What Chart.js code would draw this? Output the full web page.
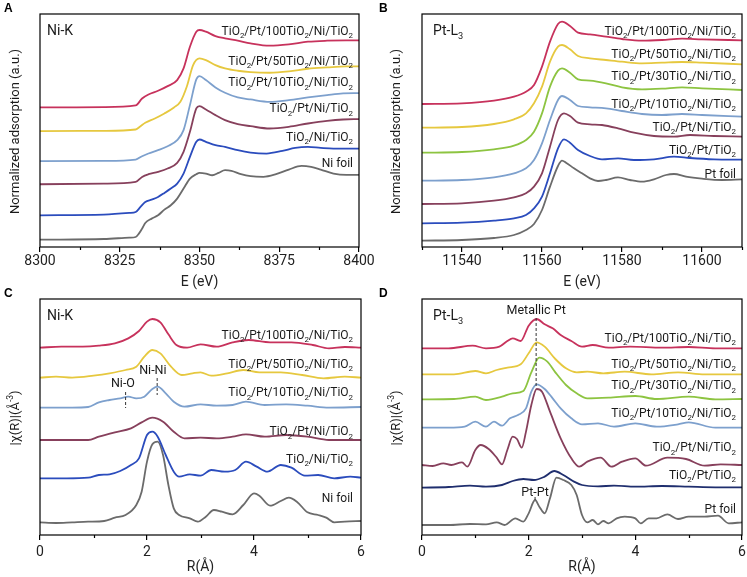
<!DOCTYPE html>
<html>
<head>
<meta charset="utf-8">
<script src="https://cdn.jsdelivr.net/npm/chart.js@4.4.1/dist/chart.umd.min.js"></script>
<style>
  body { margin: 0; background: #fff; width: 747px; height: 577px; position: relative; overflow: hidden; }
  canvas { position: absolute; }
</style>
</head>
<body>
<canvas id="chartA" width="386" height="292" style="left:0;top:0"></canvas>
<canvas id="chartB" width="374" height="292" style="left:373px;top:0"></canvas>
<canvas id="chartC" width="373" height="292" style="left:0;top:285px"></canvas>
<canvas id="chartD" width="374" height="292" style="left:373px;top:285px"></canvas>
<script>
// ---- data (stacked curves, arbitrary units) ----

// A: Ni-K XANES, [E (eV), normalized absorption + offset]
var aPt100 = [[8300,4.18],[8320,4.19],[8330,4.24],[8332,4.45],[8334,4.57],[8337,4.68],[8340,4.82],[8343,5.00],[8345,5.35],[8347,6.00],[8349,6.45],[8350,6.50],[8352,6.45],[8355,6.32],[8358,6.25],[8362,6.18],[8366,6.10],[8372,6.03],[8378,6.07],[8384,6.15],[8390,6.18],[8396,6.19],[8400,6.19]];
var aPt50 = [[8300,3.47],[8320,3.48],[8330,3.52],[8331.5,3.62],[8333,3.72],[8336,3.85],[8339,4.00],[8342,4.18],[8344,4.35],[8346,4.80],[8348,5.45],[8350,5.65],[8352,5.60],[8355,5.45],[8358,5.35],[8362,5.28],[8366,5.24],[8372,5.22],[8378,5.26],[8384,5.34],[8390,5.38],[8396,5.41],[8400,5.41]];
var aPt10 = [[8300,2.57],[8320,2.58],[8330,2.62],[8332,2.72],[8334,2.80],[8337,2.90],[8340,3.02],[8343,3.20],[8345,3.50],[8347,4.25],[8349,5.02],[8350,5.12],[8352,5.00],[8355,4.78],[8358,4.62],[8362,4.48],[8366,4.42],[8372,4.35],[8378,4.40],[8384,4.48],[8390,4.55],[8395,4.60],[8400,4.61]];
var aPtNi = [[8300,1.88],[8320,1.90],[8330,1.95],[8332,2.10],[8334,2.18],[8337,2.25],[8340,2.35],[8343,2.52],[8345,2.85],[8347,3.45],[8349,4.15],[8350,4.22],[8352,4.12],[8355,3.95],[8358,3.80],[8362,3.68],[8366,3.62],[8372,3.55],[8378,3.60],[8384,3.70],[8390,3.78],[8395,3.82],[8400,3.83]];
var aNiTi = [[8300,0.95],[8320,0.97],[8328,1.02],[8330,1.05],[8331.5,1.20],[8333,1.35],[8335,1.42],[8337,1.50],[8339,1.62],[8341,1.75],[8343,1.90],[8345,2.20],[8347,2.70],[8349,3.15],[8350,3.22],[8352,3.15],[8355,3.05],[8358,3.00],[8362,2.90],[8366,2.83],[8371,2.80],[8376,2.88],[8380,2.97],[8384,3.00],[8388,2.97],[8392,2.95],[8400,2.95]];
var aNiFoil = [[8300,0.22],[8320,0.24],[8328,0.28],[8330,0.30],[8331,0.40],[8332,0.55],[8333,0.72],[8335,0.85],[8337,0.95],[8339,1.12],[8341,1.25],[8343,1.45],[8345,1.75],[8347,2.05],[8349,2.18],[8350,2.22],[8352,2.20],[8354,2.15],[8356,2.22],[8358,2.30],[8360,2.28],[8363,2.18],[8366,2.12],[8370,2.10],[8374,2.18],[8378,2.32],[8382,2.43],[8385,2.40],[8388,2.32],[8392,2.20],[8396,2.16],[8400,2.16]];
var labelsA = ['TiO_2/Pt/100TiO_2/Ni/TiO_2', 'TiO_2/Pt/50TiO_2/Ni/TiO_2', 'TiO_2/Pt/10TiO_2/Ni/TiO_2', 'TiO_2/Pt/Ni/TiO_2', 'TiO_2/Ni/TiO_2', 'Ni foil'];

// B: Pt-L3 XANES
var bPt100 = [[11530,4.29],[11540,4.31],[11548,4.39],[11553,4.51],[11556,4.66],[11558,4.86],[11560,5.41],[11562,6.16],[11564,6.69],[11565,6.76],[11567,6.63],[11569,6.43],[11572,6.38],[11576,6.31],[11580,6.24],[11585,6.19],[11590,6.21],[11595,6.25],[11600,6.23],[11610,6.20]];
var bPt50 = [[11530,3.58],[11540,3.60],[11548,3.69],[11553,3.83],[11556,4.01],[11558,4.31],[11560,4.81],[11562,5.56],[11564,6.01],[11565,6.06],[11567,5.93],[11569,5.73],[11572,5.66],[11576,5.61],[11580,5.56],[11585,5.51],[11590,5.53],[11595,5.55],[11600,5.53],[11610,5.48]];
var bPt30 = [[11530,2.83],[11540,2.85],[11548,2.93],[11553,3.04],[11556,3.21],[11558,3.46],[11560,4.01],[11562,4.81],[11564,5.29],[11565,5.36],[11567,5.23],[11569,5.03],[11572,4.99],[11576,4.91],[11580,4.79],[11585,4.73],[11590,4.75],[11595,4.79],[11600,4.76],[11610,4.71]];
var bPt10 = [[11530,1.99],[11540,2.01],[11548,2.09],[11553,2.21],[11556,2.36],[11558,2.61],[11560,3.11],[11562,3.81],[11564,4.41],[11565,4.53],[11567,4.41],[11569,4.23],[11572,4.19],[11576,4.16],[11580,4.08],[11585,3.99],[11590,3.96],[11595,3.99],[11600,3.96],[11610,3.91]];
var bPtNi = [[11530,1.29],[11540,1.31],[11548,1.39],[11553,1.49],[11556,1.61],[11558,1.81],[11560,2.21],[11562,3.01],[11564,3.81],[11565.5,4.01],[11567,3.93],[11569,3.73],[11572,3.68],[11575,3.66],[11579,3.56],[11583,3.43],[11588,3.33],[11593,3.31],[11597,3.36],[11603,3.33],[11610,3.31]];
var bPtTi = [[11530,0.71],[11540,0.73],[11548,0.79],[11553,0.86],[11556,0.96],[11558,1.16],[11560,1.51],[11562,2.21],[11564,2.96],[11565.5,3.23],[11567,3.13],[11569,2.91],[11572,2.73],[11575,2.63],[11579,2.66],[11583,2.61],[11588,2.63],[11593,2.71],[11597,2.67],[11603,2.63],[11610,2.62]];
var bPtFoil = [[11530,0.19],[11540,0.21],[11548,0.27],[11553,0.36],[11556,0.51],[11558,0.69],[11560,1.11],[11562,1.81],[11564,2.43],[11565,2.59],[11566,2.53],[11568,2.36],[11570,2.21],[11572,2.06],[11574,1.98],[11576,2.01],[11579,2.09],[11582,2.01],[11585,1.96],[11588,2.03],[11591,2.16],[11593,2.19],[11596,2.11],[11600,2.05],[11605,2.01],[11610,2.03]];
var labelsB = ['TiO_2/Pt/100TiO_2/Ni/TiO_2', 'TiO_2/Pt/50TiO_2/Ni/TiO_2', 'TiO_2/Pt/30TiO_2/Ni/TiO_2', 'TiO_2/Pt/10TiO_2/Ni/TiO_2', 'TiO_2/Pt/Ni/TiO_2', 'TiO_2/Pt/TiO_2', 'Pt foil'];

// C: Ni-K EXAFS, [R (Å), |chi(R)| + offset]
var cPt100 = [[0,5.62],[0.4,5.65],[0.8,5.65],[1.1,5.68],[1.4,5.75],[1.65,5.90],[1.85,6.12],[2.0,6.40],[2.1,6.48],[2.25,6.38],[2.4,6.02],[2.55,5.70],[2.75,5.62],[3.0,5.72],[3.3,5.65],[3.6,5.78],[3.9,5.85],[4.3,5.78],[4.7,5.78],[5.1,5.70],[5.4,5.60],[5.7,5.64],[6.0,5.62]];
var cPt50 = [[0,4.72],[0.3,4.75],[0.6,4.72],[1.0,4.78],[1.3,4.85],[1.6,4.95],[1.8,5.05],[1.95,5.35],[2.1,5.55],[2.25,5.45],[2.45,5.05],[2.65,4.80],[2.85,4.85],[3.0,4.88],[3.2,4.78],[3.5,4.85],[3.8,4.95],[4.1,4.88],[4.5,4.88],[4.9,4.80],[5.3,4.70],[5.7,4.75],[6.0,4.72]];
var cPt10 = [[0,3.82],[0.6,3.82],[0.9,3.84],[1.1,3.98],[1.3,4.05],[1.5,4.10],[1.65,4.15],[1.8,4.10],[1.95,4.15],[2.1,4.38],[2.2,4.45],[2.35,4.25],[2.5,4.00],[2.7,3.85],[3.0,3.92],[3.3,3.88],[3.6,3.90],[3.85,4.00],[4.2,3.90],[4.6,3.92],[5.0,3.88],[5.4,3.82],[6.0,3.84]];
var cPtNi = [[0,2.85],[0.9,2.85],[1.1,2.95],[1.4,3.08],[1.7,3.20],[1.9,3.38],[2.1,3.52],[2.3,3.40],[2.5,3.10],[2.7,2.90],[3.0,2.92],[3.3,2.90],[3.6,2.95],[3.85,3.02],[4.2,2.95],[4.6,3.00],[5.0,2.95],[5.4,2.85],[6.0,2.85]];
var cNiTi = [[0,1.70],[0.5,1.70],[0.9,1.72],[1.1,1.80],[1.3,1.82],[1.5,1.92],[1.7,2.10],[1.85,2.30],[2.0,3.00],[2.1,3.10],[2.2,2.95],[2.35,2.40],[2.5,1.90],[2.6,1.75],[2.8,1.82],[3.0,1.78],[3.2,1.95],[3.45,1.90],[3.65,1.95],[3.85,2.20],[4.05,2.05],[4.25,1.90],[4.5,2.10],[4.7,2.02],[4.95,1.78],[5.2,1.80],[5.5,1.70],[5.8,1.75],[6.0,1.72]];
var cNiFoil = [[0,0.38],[0.3,0.36],[0.6,0.38],[0.9,0.40],[1.2,0.42],[1.4,0.52],[1.6,0.60],[1.8,0.90],[1.9,1.30],[2.0,2.20],[2.1,2.72],[2.2,2.80],[2.3,2.40],[2.4,1.50],[2.5,0.80],[2.6,0.60],[2.8,0.50],[2.95,0.40],[3.1,0.55],[3.25,0.75],[3.4,0.70],[3.6,0.62],[3.8,0.90],[4.0,1.25],[4.1,1.18],[4.3,0.88],[4.5,1.02],[4.65,1.12],[4.8,1.00],[5.0,0.68],[5.2,0.60],[5.35,0.52],[5.5,0.38],[5.7,0.40],[6.0,0.42]];
var labelsC = ['TiO_2/Pt/100TiO_2/Ni/TiO_2', 'TiO_2/Pt/50TiO_2/Ni/TiO_2', 'TiO_2/Pt/10TiO_2/Ni/TiO_2', 'TiO_2/Pt/Ni/TiO_2', 'TiO_2/Ni/TiO_2', 'Ni foil'];
// peak marks: label, R of dashed line, R of text, y of text, dashed line from/to
var peaksC = [
  { text: 'Ni-O', r: 1.6, tr: 1.55, ty: 4.59, y0: 4.29, y1: 3.81 },
  { text: 'Ni-Ni', r: 2.19, tr: 2.11, ty: 4.97, y0: 4.71, y1: 4.20 }
];

// D: Pt-L3 EXAFS
var dPt100 = [[0,5.60],[0.5,5.60],[0.95,5.68],[1.2,5.60],[1.45,5.65],[1.6,5.82],[1.7,5.90],[1.85,5.82],[2.0,6.28],[2.15,6.48],[2.3,6.32],[2.45,6.20],[2.6,6.00],[2.8,5.82],[3.0,5.65],[3.2,5.70],[3.5,5.62],[3.9,5.65],[4.5,5.62],[5.0,5.64],[5.5,5.60],[6.0,5.60]];
var dPt50 = [[0,4.82],[0.6,4.82],[1.0,4.92],[1.2,4.85],[1.4,4.95],[1.6,5.02],[1.85,5.12],[2.0,5.45],[2.15,5.78],[2.3,5.65],[2.5,5.28],[2.7,5.00],[2.9,4.88],[3.1,4.90],[3.4,4.85],[3.8,4.90],[4.3,4.82],[4.8,4.88],[5.3,4.82],[6.0,4.82]];
var dPt30 = [[0,4.07],[0.6,4.08],[1.0,4.15],[1.2,4.05],[1.5,4.15],[1.7,4.25],[1.9,4.32],[2.05,4.88],[2.2,5.32],[2.35,5.20],[2.5,4.88],[2.7,4.50],[2.9,4.25],[3.1,4.10],[3.5,4.12],[4.0,4.17],[4.4,4.08],[5.0,4.15],[5.5,4.07],[6.0,4.08]];
var dPt10 = [[0,3.22],[0.5,3.22],[0.8,3.25],[1.0,3.40],[1.2,3.25],[1.35,3.40],[1.5,3.28],[1.65,3.50],[1.8,3.60],[1.95,3.80],[2.05,4.30],[2.15,4.52],[2.3,4.38],[2.45,4.10],[2.6,3.80],[2.8,3.50],[3.0,3.32],[3.3,3.35],[3.6,3.25],[4.0,3.35],[4.4,3.25],[4.8,3.32],[5.0,3.38],[5.5,3.22],[6.0,3.22]];
var dPtNi = [[0,2.10],[0.2,2.07],[0.4,2.15],[0.55,2.10],[0.75,2.18],[0.85,2.05],[1.0,2.55],[1.1,2.70],[1.25,2.58],[1.4,2.32],[1.5,2.12],[1.6,2.55],[1.7,2.95],[1.78,2.88],[1.87,2.62],[1.95,3.10],[2.05,3.90],[2.15,4.38],[2.25,4.30],[2.4,3.70],[2.6,2.90],[2.8,2.30],[2.95,2.05],[3.1,2.20],[3.35,2.32],[3.55,2.05],[3.75,2.20],[4.0,2.30],[4.2,2.08],[4.6,2.32],[4.95,2.28],[5.3,2.08],[5.6,2.12],[6.0,2.10]];
var dPtTi = [[0,1.42],[0.5,1.44],[0.9,1.48],[1.2,1.45],[1.5,1.50],[1.7,1.62],[1.9,1.68],[2.1,1.65],[2.3,1.75],[2.48,1.92],[2.65,1.80],[2.85,1.60],[3.0,1.50],[3.3,1.46],[3.6,1.48],[4.0,1.45],[4.5,1.47],[5.0,1.45],[5.5,1.43],[6.0,1.43]];
var dPtFoil = [[0,0.30],[0.5,0.30],[0.9,0.33],[1.2,0.32],[1.4,0.38],[1.55,0.30],[1.75,0.50],[1.9,0.40],[2.0,0.65],[2.12,1.05],[2.2,0.85],[2.3,0.65],[2.4,1.10],[2.52,1.72],[2.65,1.65],[2.8,1.50],[2.9,1.20],[3.0,0.60],[3.1,0.38],[3.2,0.45],[3.3,0.32],[3.4,0.42],[3.5,0.35],[3.65,0.50],[3.8,0.55],[4.0,0.50],[4.1,0.35],[4.25,0.50],[4.4,0.50],[4.6,0.62],[4.8,0.48],[5.0,0.55],[5.3,0.55],[5.55,0.58],[5.75,0.35],[6.0,0.38]];
var labelsD = ['TiO_2/Pt/100TiO_2/Ni/TiO_2', 'TiO_2/Pt/50TiO_2/Ni/TiO_2', 'TiO_2/Pt/30TiO_2/Ni/TiO_2', 'TiO_2/Pt/10TiO_2/Ni/TiO_2', 'TiO_2/Pt/Ni/TiO_2', 'TiO_2/Pt/TiO_2', 'Pt foil'];
var peaksD = [
  { text: 'Metallic Pt', r: 2.14, tr: 2.14, ty: 6.78, y0: 6.51, y1: 4.41 },
  { text: 'Pt-Pt', r: 2.12, tr: 2.12, ty: 1.32, y0: 1.14, y1: 0.99 }
];

// ---- styling ----
var FONT = 'Roboto, "Open Sans", sans-serif';
var RED = '#c7325c', YEL = '#e6c83f', GRN = '#8dc441', LBL = '#7da0cd', MAR = '#87405c', BLU = '#2b4cbd', NAV = '#1f2e6e', GRY = '#6b6b6b';

// split "TiO_2" / "Å^{-3}" into normal, sub and sup parts
function parts(str) {
  var out = [], buf = '', i = 0;
  while (i < str.length) {
    var c = str[i];
    if (c === '_' || c === '^') {
      if (buf) { out.push({ t: buf, k: 0 }); buf = ''; }
      var t;
      if (str[i + 1] === '{') { var j = str.indexOf('}', i); t = str.slice(i + 2, j); i = j + 1; }
      else { t = str[i + 1]; i += 2; }
      out.push({ t: t, k: c === '_' ? 1 : -1 });
    } else { buf += c; i++; }
  }
  if (buf) out.push({ t: buf, k: 0 });
  return out;
}

function drawRich(ctx, str, x, y, align, size) {
  var ps = parts(str), small = size * 0.66, w = 0;
  ps.forEach(function (p) {
    ctx.font = (p.k ? small : size) + 'px ' + FONT;
    p.w = ctx.measureText(p.t).width;
    w += p.w;
  });
  var cx = align === 'right' ? x - w : align === 'center' ? x - w / 2 : x;
  var base = y + size * 0.36;
  ctx.textAlign = 'left';
  ctx.textBaseline = 'alphabetic';
  ps.forEach(function (p) {
    ctx.font = (p.k ? small : size) + 'px ' + FONT;
    var dy = p.k === 1 ? size * 0.28 : p.k === -1 ? -size * 0.42 : 0;
    ctx.fillText(p.t, cx, base + dy);
    cx += p.w;
  });
}

function decor(p) {
  return {
    id: 'decor' + p.letter,
    afterDatasetsDraw: function (chart) {
      var ctx = chart.ctx, a = chart.chartArea, x = chart.scales.x, y = chart.scales.y;
      ctx.save();
      ctx.fillStyle = '#1a1a1a';
      // frame
      ctx.strokeStyle = '#000';
      ctx.lineWidth = 1.2;
      ctx.strokeRect(a.left, a.top, a.right - a.left, a.bottom - a.top);
      // minor ticks
      for (var v = Math.floor(p.xMin / p.major) * p.major - p.major / 2; v <= p.xMax + 1e-9; v += p.major) {
        if (v < p.xMin - 1e-9) continue;
        var px = Math.round(x.getPixelForValue(v)) + 0.5;
        ctx.beginPath(); ctx.moveTo(px, a.bottom); ctx.lineTo(px, a.bottom + 3); ctx.stroke();
      }
      // curve labels at right end of each curve
      p.series.forEach(function (s, i) {
        var last = s[s.length - 1][1];
        drawRich(ctx, p.labels[i], a.right - p.labelRight, y.getPixelForValue(last) - p.offsets[i], 'right', 12);
      });
      // edge name
      drawRich(ctx, p.edge, a.left + p.edgeX, a.top + 16, 'left', 14);
      // peak marks
      (p.peaks || []).forEach(function (m) {
        ctx.strokeStyle = '#333';
        ctx.lineWidth = 1;
        ctx.setLineDash([3, 2]);
        var px = x.getPixelForValue(m.r);
        ctx.beginPath(); ctx.moveTo(px, y.getPixelForValue(m.y0)); ctx.lineTo(px, y.getPixelForValue(m.y1)); ctx.stroke();
        ctx.setLineDash([]);
        drawRich(ctx, m.text, x.getPixelForValue(m.tr), y.getPixelForValue(m.ty), 'center', 12.5);
      });
      // y title
      ctx.save();
      ctx.translate(p.yTitleX, (a.top + a.bottom) / 2 + 1);
      ctx.rotate(-Math.PI / 2);
      drawRich(ctx, p.yTitle, 0, 0, 'center', 13);
      ctx.restore();
      // panel letter
      ctx.font = 'bold 12px "Liberation Sans", Arial, sans-serif';
      ctx.textAlign = 'left';
      ctx.textBaseline = 'top';
      ctx.fillStyle = '#000';
      ctx.fillText(p.letter, p.letterX, 3);
      ctx.restore();
    }
  };
}

function makePanel(p) {
  var datasets = p.series.map(function (s, i) {
    return {
      data: s.map(function (d) { return { x: d[0], y: d[1] }; }),
      borderColor: p.colors[i],
      borderWidth: 1.8,
      pointRadius: 0,
      fill: false,
      cubicInterpolationMode: 'monotone'
    };
  });
  new Chart(document.getElementById(p.id), {
    type: 'line',
    data: { datasets: datasets },
    options: {
      responsive: false,
      animation: false,
      layout: { padding: { top: 14, right: p.padRight, left: 0, bottom: 0 } },
      plugins: { legend: { display: false }, tooltip: { enabled: false } },
      scales: {
        x: {
          type: 'linear', min: p.xMin, max: p.xMax,
          border: { display: false },
          grid: { display: true, drawOnChartArea: false, drawTicks: true, tickLength: 5, color: '#000', lineWidth: 1.2 },
          ticks: {
            padding: p.tickPad, color: '#222',
            font: { family: FONT, size: 14 },
            maxRotation: 0,
            autoSkip: false,
            callback: function (v) { return String(v); }
          },
          afterBuildTicks: function (s) {
            var list = [];
            for (var v = Math.ceil(p.xMin / p.major) * p.major; v <= p.xMax + 1e-9; v += p.major) list.push({ value: v });
            s.ticks = list;
          },
          afterFit: function (s) { s.height = p.xAxisH; s.paddingLeft = 0; s.paddingRight = 0; },
          title: { display: true, text: p.xTitle, color: '#222', font: { family: FONT, size: 14 }, padding: { top: 0, bottom: 1 } }
        },
        y: {
          min: 0, max: p.yMax,
          border: { display: false },
          grid: { display: false },
          ticks: { display: false },
          afterFit: function (s) { s.width = p.yAxisW; s.paddingTop = 0; s.paddingBottom = 0; }
        }
      }
    },
    plugins: [decor(p)]
  });
}

makePanel({
  id: 'chartA', letter: 'A', letterX: 4, edge: 'Ni-K', edgeX: 7,
  xMin: 8300, xMax: 8400, major: 25, yMax: 6.98, xTitle: 'E (eV)', yTitle: 'Normalized adsorption (a.u.)',
  series: [aPt100, aPt50, aPt10, aPtNi, aNiTi, aNiFoil], labels: labelsA,
  colors: [RED, YEL, LBL, MAR, BLU, GRY], offsets: [10, 6, 11, 11, 12, 12],
  yAxisW: 40, padRight: 27, xAxisH: 45, tickPad: 1, labelRight: 6, yTitleX: 14
});
makePanel({
  id: 'chartB', letter: 'B', letterX: 6, edge: 'Pt-L_3', edgeX: 11,
  xMin: 11530, xMax: 11610, major: 20, yMax: 6.99, xTitle: 'E (eV)', yTitle: 'Normalized adsorption (a.u.)',
  series: [bPt100, bPt50, bPt30, bPt10, bPtNi, bPtTi, bPtFoil], labels: labelsB,
  colors: [RED, YEL, GRN, LBL, MAR, BLU, GRY], offsets: [10, 11, 14, 13, 10, 10, 6],
  yAxisW: 49, padRight: 5, xAxisH: 45, tickPad: 1, labelRight: 6, yTitleX: 22
});
makePanel({
  id: 'chartC', letter: 'C', letterX: 4, edge: 'Ni-K', edgeX: 7,
  xMin: 0, xMax: 6, major: 2, yMax: 7.08, xTitle: 'R(Å)', yTitle: '|χ(R)|(Å^{-3})',
  series: [cPt100, cPt50, cPt10, cPtNi, cNiTi, cNiFoil], labels: labelsC, peaks: peaksC,
  colors: [RED, YEL, LBL, MAR, BLU, GRY], offsets: [13, 14, 15, 9, 19, 23],
  yAxisW: 40, padRight: 12, xAxisH: 42, tickPad: 4, labelRight: 8, yTitleX: 14
});
makePanel({
  id: 'chartD', letter: 'D', letterX: 6, edge: 'Pt-L_3', edgeX: 11,
  xMin: 0, xMax: 6, major: 2, yMax: 7.08, xTitle: 'R(Å)', yTitle: '|χ(R)|(Å^{-3})',
  series: [dPt100, dPt50, dPt30, dPt10, dPtNi, dPtTi, dPtFoil], labels: labelsD, peaks: peaksD,
  colors: [RED, YEL, GRN, LBL, MAR, NAV, GRY], offsets: [11, 11, 14, 15, 18, 13, 14],
  yAxisW: 49, padRight: 5, xAxisH: 42, tickPad: 4, labelRight: 6, yTitleX: 22
});
</script>
</body>
</html>
